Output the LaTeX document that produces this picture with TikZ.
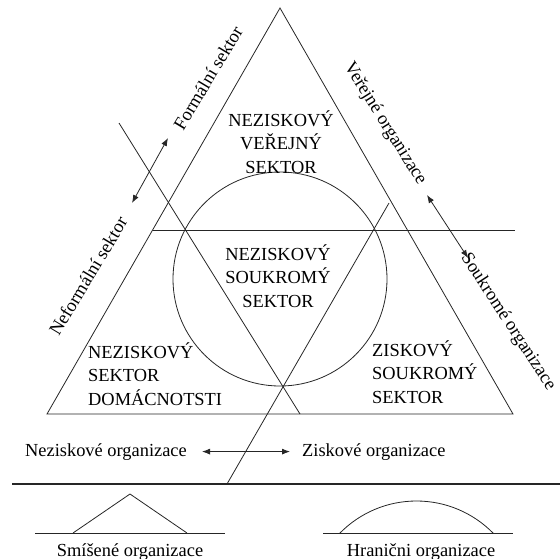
\documentclass[tikz,border=0pt]{standalone}
\usepackage{fontspec}
\setmainfont{Liberation Serif}
\newfontfamily\diagserif{Liberation Serif}
\usetikzlibrary{arrows.meta}
\begin{document}
\begin{tikzpicture}[x=1pt,y=-1pt,
  ln/.style={line width=0.8pt, black!85},
  txt/.style={font=\diagserif\fontsize{18.4}{23.3}\selectfont, inner sep=0pt},
  dbl/.style={ln, {Latex[length=8pt,width=6pt]}-{Latex[length=8pt,width=6pt]}},
]
\useasboundingbox (0,0) rectangle (560,558);
% main triangle
\coordinate (A) at (280,8);
\coordinate (L) at (47,414);
\coordinate (R) at (513,414);
\draw[ln] (A) -- (L) -- (R) -- cycle;
% horizontal line
\coordinate (h1) at (152.6,230);
\coordinate (h2) at (515,230);
\draw[ln] (h1) -- (h2);
% circle
\node[ln, draw, circle, minimum size=214pt, inner sep=0pt] (c) at (280,279) {};
% inner diagonals
\coordinate (d1a) at (119,123);
\coordinate (d1b) at (300,414);
\coordinate (d2a) at (389,203);
\coordinate (d2b) at (227,484);
\draw[ln] (d1a) -- (d1b);
\draw[ln] (d2a) -- (d2b);
% separator
\coordinate (s1) at (12,484);
\coordinate (s2) at (560,484);
\draw[line width=1.1pt, black!85] (s1) -- (s2);
% side arrows
\coordinate (fa1) at (168,138);
\coordinate (fa2) at (132,203);
\draw[dbl] (fa1) -- (fa2);
\coordinate (va1) at (427,195);
\coordinate (va2) at (468,258);
\draw[dbl] (va1) -- (va2);
% side labels
\node[txt, rotate=59] (formal) at (208,78) {Formální sektor};
\node[txt, rotate=59] (neformal) at (88,276) {Neformální sektor};
\node[txt, rotate=-58] (verejne) at (385,124) {Veřejné organizace};
\node[txt, rotate=-57] (soukrome) at (508,322) {Soukromé organizace};
% sector texts (base anchor = baseline of last line)
\node[txt, align=center, anchor=base] (nvs) at (281,173) {NEZISKOVÝ\\VEŘEJNÝ\\SEKTOR};
\node[txt, align=center, anchor=base] (nss) at (278,307) {NEZISKOVÝ\\SOUKROMÝ\\SEKTOR};
\node[txt, align=left, anchor=base west] (nsd) at (88,405) {NEZISKOVÝ\\SEKTOR\\DOMÁCNOTSTI};
\node[txt, align=left, anchor=base west] (zss) at (372,403) {ZISKOVÝ\\SOUKROMÝ\\SEKTOR};
% bottom arrow
\node[txt, anchor=base west] (nz) at (25,456) {Neziskové organizace};
\node[txt, anchor=base west] (zk) at (302,456) {Ziskové organizace};
\draw[dbl] ([xshift=15pt]nz.east) -- ([xshift=-12pt]zk.west);
% bottom left symbol
\coordinate (b1) at (35,533);
\coordinate (b2) at (225,533);
\draw[ln] (b1) -- (b2);
\coordinate (t1) at (73,533);
\coordinate (t2) at (130,494);
\coordinate (t3) at (187,533);
\draw[ln] (t1) -- (t2) -- (t3);
\node[txt, anchor=base] (smis) at (130,556) {Smíšené organizace};
% bottom right symbol
\coordinate (r1) at (323,533);
\coordinate (r2) at (513,533);
\draw[ln] (r1) -- (r2);
\begin{scope}
\clip (300,420) rectangle (560,533);
\draw[ln] (416.5,608.4) circle[radius=107.4];
\end{scope}
\node[txt, anchor=base] (hran) at (421,556) {Hranični organizace};
\end{tikzpicture}
\end{document}
